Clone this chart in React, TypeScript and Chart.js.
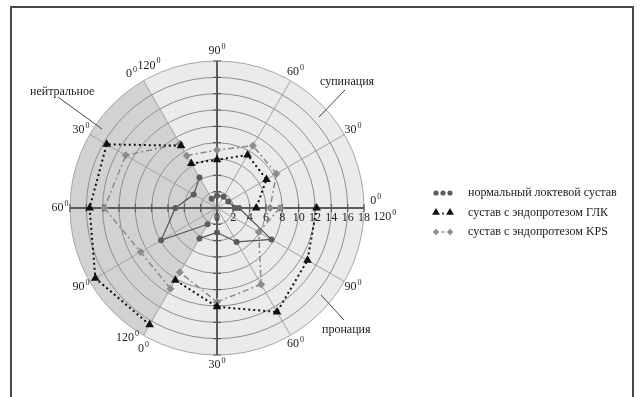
import React, { useEffect, useRef } from 'react';
import { Chart, RadarController, LineElement, PointElement, RadialLinearScale } from 'chart.js';

Chart.register(RadarController, LineElement, PointElement, RadialLinearScale);

// ---------- data ----------
const sectorNames = ['супинация', 'нейтральное', 'пронация'];
const sectorStartAngles = [0, 120, 240];
const sectorTickLabels = [0, 30, 60, 90, 120];
const radialTickLabels = [0, 2, 4, 6, 8, 10, 12, 14, 16, 18];
const seriesNames = [
  'нормальный локтевой сустав',
  'сустав с эндопротезом ГЛК',
  'сустав с эндопротезом KPS',
];

// values per sector at 0°, 30°, 60°, 90°, 120°
const normalSupination = [2.2, 1.6, 1.6, 1.5, 1.3];
const normalNeutral = [4.3, 3.3, 5.1, 7.9, 2.3];
const normalPronation = [4.3, 3.0, 4.8, 7.7, 2.7];
const glkSupination = [4.8, 7.0, 7.5, 5.9, 6.3];
const glkNeutral = [8.8, 15.6, 15.6, 17.2, 16.5];
const glkPronation = [10.2, 12.1, 14.7, 12.8, 12.2];
const kpsSupination = [6.5, 8.4, 8.8, 7.1, 7.4];
const kpsNeutral = [9.1, 12.9, 13.8, 10.8, 11.4];
const kpsPronation = [9.1, 11.5, 10.8, 5.9, 7.7];

const seriesValues = [
  [normalSupination, normalNeutral, normalPronation],
  [glkSupination, glkNeutral, glkPronation],
  [kpsSupination, kpsNeutral, kpsPronation],
];

// ---------- helpers ----------
const SPOKES = 12;
const spokeLabels = Array.from({ length: SPOKES }, (_, i) => String((360 - i * 30) % 360));
const spokeIndex = (a: number) => ((360 - a) / 30) % SPOKES;
const rad = (d: number) => (d * Math.PI) / 180;

function sectorData(start: number, values: number[]) {
  const d: (number | null)[] = new Array(SPOKES).fill(null);
  values.forEach((v, k) => {
    d[spokeIndex(start + 30 * k)] = v;
  });
  return d;
}

const styles = [
  { color: '#555555', point: '#5c5c5c', dash: [] as number[], width: 1.2, pointStyle: 'circle', radius: 3 },
  { color: '#111111', point: '#111111', dash: [2, 3], width: 2, pointStyle: 'triangle', radius: 5 },
  { color: '#8a8a8a', point: '#8c8c8c', dash: [6, 3, 2, 3], width: 1.5, pointStyle: 'rectRot', radius: 4 },
];

const SERIF = '"Liberation Serif", "DejaVu Serif", serif';

function drawDeg(ctx: CanvasRenderingContext2D, text: string, x: number, y: number) {
  ctx.font = `12px ${SERIF}`;
  const w1 = ctx.measureText(text).width;
  ctx.font = `8px ${SERIF}`;
  const w2 = ctx.measureText('0').width;
  const x0 = x - (w1 + w2 + 1) / 2;
  ctx.textAlign = 'left';
  ctx.textBaseline = 'middle';
  ctx.font = `12px ${SERIF}`;
  ctx.fillText(text, x0, y);
  ctx.font = `8px ${SERIF}`;
  ctx.fillText('0', x0 + w1 + 1, y - 4);
}

function drawMarker(ctx: CanvasRenderingContext2D, style: string, x: number, y: number, r: number, color: string) {
  ctx.fillStyle = color;
  ctx.beginPath();
  if (style === 'circle') {
    ctx.arc(x, y, r, 0, Math.PI * 2);
  } else if (style === 'triangle') {
    ctx.moveTo(x, y - r);
    ctx.lineTo(x + r * 0.87, y + r * 0.5);
    ctx.lineTo(x - r * 0.87, y + r * 0.5);
    ctx.closePath();
  } else {
    ctx.moveTo(x, y - r);
    ctx.lineTo(x + r, y);
    ctx.lineTo(x, y + r);
    ctx.lineTo(x - r, y);
    ctx.closePath();
  }
  ctx.fill();
}

// label nudges: [angle shift (deg), radius gap (px)] for first / middle / last tick of a sector
function labelPlacement(start: number, k: number, last: number): [number, number] {
  if (k === 0) return [2.5, 12];
  if (k === last) return start + 30 * k === 360 ? [-3, 21] : [-4.5, 11];
  return [0, 10];
}

const polarDecor = {
  id: 'polarDecor',
  beforeDraw(chart: any) {
    const sc = chart.scales.r;
    const ctx: CanvasRenderingContext2D = chart.ctx;
    const cx = sc.xCenter;
    const cy = sc.yCenter;
    const R = sc.drawingArea;
    ctx.save();
    ctx.fillStyle = '#ebebeb';
    ctx.beginPath();
    ctx.arc(cx, cy, R, 0, Math.PI * 2);
    ctx.fill();
    const a1 = rad(sectorStartAngles[1]);
    const a2 = rad(sectorStartAngles[2]);
    ctx.fillStyle = '#d2d2d2';
    ctx.beginPath();
    ctx.moveTo(cx, cy);
    ctx.lineTo(cx + R * Math.cos(a1), cy - R * Math.sin(a1));
    ctx.arc(cx, cy, R, -a1, -a2, true);
    ctx.closePath();
    ctx.fill();
    ctx.restore();
  },
  beforeDatasetsDraw(chart: any) {
    const sc = chart.scales.r;
    const ctx: CanvasRenderingContext2D = chart.ctx;
    const cx = sc.xCenter;
    const cy = sc.yCenter;
    const R = sc.drawingArea;
    ctx.save();
    ctx.strokeStyle = '#5a5a5a';
    ctx.lineWidth = 2;
    ctx.beginPath();
    ctx.moveTo(cx - R, cy);
    ctx.lineTo(cx + R, cy);
    ctx.moveTo(cx, cy - R);
    ctx.lineTo(cx, cy + R);
    ctx.stroke();
    ctx.lineWidth = 1.2;
    ctx.beginPath();
    radialTickLabels.forEach((v) => {
      if (v === 0) return;
      const d = sc.getDistanceFromCenterForValue(v);
      ctx.moveTo(cx + d, cy - 4);
      ctx.lineTo(cx + d, cy + 4);
      ctx.moveTo(cx - d, cy - 4);
      ctx.lineTo(cx - d, cy + 4);
      ctx.moveTo(cx - 4, cy + d);
      ctx.lineTo(cx + 4, cy + d);
      ctx.moveTo(cx - 4, cy - d);
      ctx.lineTo(cx + 4, cy - d);
    });
    ctx.stroke();
    ctx.fillStyle = '#222';
    ctx.font = `12px ${SERIF}`;
    ctx.textAlign = 'center';
    ctx.textBaseline = 'middle';
    radialTickLabels.forEach((v) => {
      const d = sc.getDistanceFromCenterForValue(v);
      ctx.fillText(String(v), cx + d, cy + 10);
    });
    ctx.restore();
  },
  afterDraw(chart: any) {
    const sc = chart.scales.r;
    const ctx: CanvasRenderingContext2D = chart.ctx;
    const cx = sc.xCenter;
    const cy = sc.yCenter;
    const R = sc.drawingArea;
    ctx.save();
    // angle labels
    ctx.fillStyle = '#222';
    const last = sectorTickLabels.length - 1;
    sectorStartAngles.forEach((start) => {
      sectorTickLabels.forEach((t, k) => {
        const [da, gap] = labelPlacement(start, k, last);
        const a = start + 30 * k + da;
        const rr = R + gap;
        const x = cx + rr * Math.cos(rad(a));
        const y = cy - rr * Math.sin(rad(a));
        drawDeg(ctx, String(t), x, y);
      });
    });
    // sector names with leader lines
    ctx.strokeStyle = '#444';
    ctx.lineWidth = 1;
    ctx.font = `12px ${SERIF}`;
    ctx.textBaseline = 'middle';
    ctx.textAlign = 'left';
    ctx.fillStyle = '#1a1a1a';
    // супинация
    ctx.fillText(sectorNames[0], cx + 103, cy - 126);
    ctx.beginPath();
    ctx.moveTo(cx + 128, cy - 118);
    ctx.lineTo(cx + 102, cy - 91);
    ctx.stroke();
    // нейтральное
    ctx.fillText(sectorNames[1], cx - 187, cy - 116);
    ctx.beginPath();
    ctx.moveTo(cx - 159, cy - 111);
    ctx.lineTo(cx - 115, cy - 79);
    ctx.stroke();
    // пронация
    ctx.fillText(sectorNames[2], cx + 105, cy + 122);
    ctx.beginPath();
    ctx.moveTo(cx + 127, cy + 112);
    ctx.lineTo(cx + 104, cy + 87);
    ctx.stroke();

    // legend
    const lx = 433;
    const ly = 193;
    seriesNames.forEach((name, i) => {
      const st = styles[i];
      const y = ly + i * 19.5;
      if (i === 0) {
        [0, 7, 14].forEach((dx) => drawMarker(ctx, 'circle', lx + 3 + dx, y, 2.6, st.point));
      } else if (i === 1) {
        drawMarker(ctx, 'triangle', lx + 3, y, 4.5, st.point);
        drawMarker(ctx, 'circle', lx + 10, y + 1, 1, st.point);
        drawMarker(ctx, 'triangle', lx + 17, y, 4.5, st.point);
      } else {
        drawMarker(ctx, 'rectRot', lx + 3, y, 3.2, st.point);
        ctx.strokeStyle = st.color;
        ctx.lineWidth = 1.2;
        ctx.beginPath();
        ctx.moveTo(lx + 8, y);
        ctx.lineTo(lx + 12, y);
        ctx.stroke();
        drawMarker(ctx, 'rectRot', lx + 17, y, 3.2, st.point);
      }
      ctx.fillStyle = '#1a1a1a';
      ctx.font = `12px ${SERIF}`;
      ctx.textAlign = 'left';
      ctx.textBaseline = 'middle';
      ctx.fillText(name, 468, y);
    });

    // frame
    ctx.strokeStyle = '#4a4a4a';
    ctx.lineWidth = 2;
    ctx.beginPath();
    ctx.moveTo(11, 400);
    ctx.lineTo(11, 7);
    ctx.lineTo(633, 7);
    ctx.lineTo(633, 400);
    ctx.stroke();
    ctx.restore();
  },
};

export default function App() {
  const ref = useRef<HTMLCanvasElement | null>(null);
  useEffect(() => {
    if (!ref.current) return;
    const datasets: any[] = [];
    seriesValues.forEach((sectors, si) => {
      const st = styles[si];
      sectors.forEach((vals, k) => {
        datasets.push({
          label: `${seriesNames[si]} — ${sectorNames[k]}`,
          data: sectorData(sectorStartAngles[k], vals),
          borderColor: st.color,
          backgroundColor: 'rgba(0,0,0,0)',
          borderWidth: st.width,
          borderDash: st.dash,
          pointStyle: st.pointStyle,
          pointRadius: st.radius,
          pointBackgroundColor: st.point,
          pointBorderColor: st.point,
          pointBorderWidth: 0,
          fill: false,
          spanGaps: false,
          tension: 0,
        });
      });
    });
    const chart = new Chart(ref.current, {
      type: 'radar',
      data: { labels: spokeLabels, datasets },
      options: {
        animation: false,
        responsive: false,
        layout: { padding: { left: 70, right: 276, top: 61, bottom: 42 } },
        scales: {
          r: {
            min: 0,
            max: 18,
            startAngle: 90,
            ticks: { display: false, stepSize: 2 },
            pointLabels: { display: false },
            grid: {
              circular: true,
              color: (c: any) => (c.tick && c.tick.value === 18 ? '#a6a6a6' : '#8e8e8e'),
              lineWidth: 1,
            },
            angleLines: { color: '#a2a2a2', lineWidth: 1 },
          },
        },
      } as any,
      plugins: [polarDecor],
    });
    return () => chart.destroy();
  }, []);
  return (
    <div style={{ position: 'fixed', left: 0, top: 0, width: 640, height: 397, background: '#fff' }}>
      <canvas ref={ref} width={640} height={397} style={{ display: 'block' }} />
    </div>
  );
}
